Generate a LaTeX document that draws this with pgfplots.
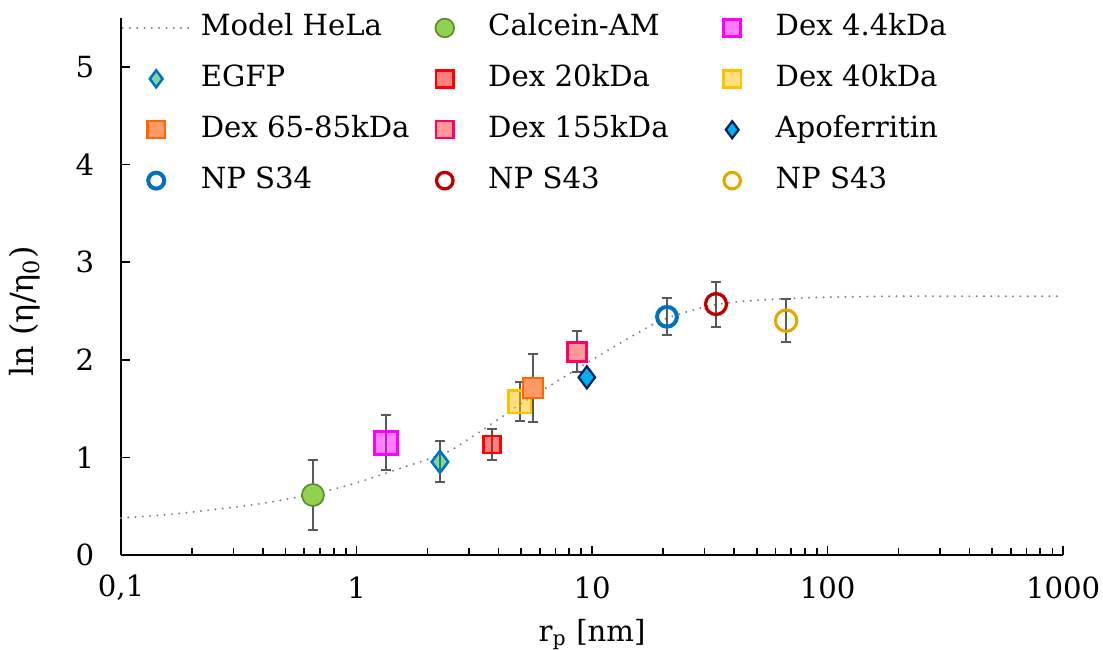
\documentclass[border=0pt]{standalone}
\usepackage{pgfplots}
\pgfplotsset{compat=1.18}
\usepackage{fontspec}
\setmainfont{DejaVu Serif}

\definecolor{calfill}{HTML}{92D050}
\definecolor{caldraw}{HTML}{5B8C2A}
\definecolor{egfpfill}{HTML}{00B050}
\definecolor{blue1}{HTML}{0070C0}
\definecolor{magenta1}{HTML}{FF00FF}
\definecolor{red1}{HTML}{FF0000}
\definecolor{yellow1}{HTML}{FFC000}
\definecolor{orfill}{HTML}{FF9966}
\definecolor{ordraw}{HTML}{FF6600}
\definecolor{pkfill}{HTML}{FF9999}
\definecolor{pkdraw}{HTML}{FF0066}
\definecolor{apofill}{HTML}{00B0F0}
\definecolor{apodraw}{HTML}{002060}
\definecolor{darkred1}{HTML}{C00000}
\definecolor{gold1}{HTML}{E3A600}
\definecolor{errgray}{HTML}{595959}
\definecolor{modelgray}{HTML}{808080}

\newcommand{\lt}[1]{\makebox[74pt][l]{#1}}

\pgfplotsset{
  mlegend/.style={
    legend image code/.code={%
      \pgfpathrectangle{\pgfpoint{0pt}{-1pt}}{\pgfpoint{24.4pt}{2pt}}\pgfusepath{discard}%
      \draw[##1,only marks,mark size=#1]
        plot coordinates {(12.2pt,0pt)};}},
  mlegend/.default=3.1pt,
  modellegend/.style={
    legend image code/.code={\draw[##1] (0pt,0pt) -- (24.4pt,0pt);}},
  errb/.style={
    error bars/.cd, y dir=both, y explicit,
    error bar style={errgray, line width=0.75pt, solid},
    error mark options={rotate=90, mark size=1.8pt, line width=0.75pt, errgray, solid}},
}

\begin{document}
\begin{tikzpicture}[font=\fontsize{10.6}{12.7}\selectfont]
\begin{axis}[
  name=ax,
  scale only axis,
  width=342.5pt, height=195.3pt,
  xmode=log,
  xmin=0.1, xmax=1000,
  ymin=0, ymax=5.5,
  axis x line*=bottom, axis y line*=left,
  axis line style={line width=0.75pt},
  tick align=inside,
  major tick length=3.3pt, minor tick length=2.5pt,
  tick style={black, line width=0.6pt},
  xtick={0.1,1,10,100,1000},
  xticklabels={{0,1},1,10,100,1000},
  ytick={0,1,2,3,4,5},
  yticklabels={0,1,2,3,4,5},
  xticklabel style={anchor=center, yshift=-11.8pt},
  yticklabel style={anchor=east},
  yticklabel shift=6.2pt,
  every axis y label/.style={at={(axis description cs:-0.1019,0.454)}, rotate=90, anchor=center,
    font=\fontsize{11.6}{13}\selectfont},
  every axis x label/.style={at={(axis description cs:0.5,-0.148)}, anchor=center},
  xlabel={r\textsubscript{p} [nm]},
  ylabel={ln (η/η\textsubscript{0})},
  legend columns=3,
  legend style={at={(axis description cs:0,1.013)}, anchor=north west,
    draw=none, fill=none, inner sep=0pt,
    nodes={inner sep=1pt, text height=7.8pt, text depth=2.2pt},
    row sep=6.5pt,
    /tikz/every odd column/.append style={column sep=2.6pt},
    /tikz/every even column/.append style={column sep=1.5pt}},
  legend cell align=left,
  clip=false,
]
\addplot[modelgray, line width=0.8pt, line cap=round, dash pattern=on 0pt off 2.65pt, smooth, modellegend]
coordinates {
(0.1,0.38) (0.15,0.41) (0.2,0.44) (0.3,0.49) (0.4,0.53) (0.5,0.57) (0.7,0.64)
(1,0.74) (1.5,0.88) (2,0.98) (2.5,1.07) (3,1.19) (4,1.39) (5,1.55) (7,1.77)
(10,2.00) (15,2.25) (20,2.41) (30,2.54) (40,2.59) (60,2.62) (100,2.64)
(200,2.65) (500,2.65) (1000,2.65)
};
\addlegendentry{\lt{Model HeLa}}

\addplot[only marks, mark=*, mark size=4pt, mark options={fill=calfill, draw=caldraw, line width=0.6pt}, mlegend=3.4pt, errb]
coordinates {(0.653,0.615) +- (0,0.36)};
\addlegendentry{\lt{Calcein-AM}}

\addplot[only marks, mark=square*, mark size=4.2pt, mark options={fill=magenta1, fill opacity=0.5, draw=magenta1, line width=1pt}, mlegend, errb]
coordinates {(1.33,1.15) +- (0,0.28)};
\addlegendentry{\lt{Dex 4.4kDa}}

\addplot[only marks, mark=diamond*, mark size=4pt, mark options={fill=egfpfill, fill opacity=0.5, draw=blue1, line width=0.9pt}, mlegend, errb]
coordinates {(2.26,0.955) +- (0,0.21)};
\addlegendentry{\lt{EGFP}}

\addplot[only marks, mark=square*, mark size=3.1pt, mark options={fill=red1, fill opacity=0.5, draw=red1, line width=0.9pt}, mlegend, errb]
coordinates {(3.76,1.13) +- (0,0.16)};
\addlegendentry{\lt{Dex 20kDa}}

\addplot[only marks, mark=square*, mark size=4.1pt, mark options={fill=yellow1, fill opacity=0.5, draw=yellow1, line width=0.9pt}, mlegend, errb]
coordinates {(4.94,1.57) +- (0,0.20)};
\addlegendentry{\lt{Dex 40kDa}}

\addplot[only marks, mark=square*, mark size=3.6pt, mark options={fill=orfill, draw=ordraw, line width=0.9pt}, mlegend, errb]
coordinates {(5.61,1.71) +- (0,0.35)};
\addlegendentry{\lt{Dex 65-85kDa}}

\addplot[only marks, mark=square*, mark size=3.5pt, mark options={fill=pkfill, draw=pkdraw, line width=0.9pt}, mlegend, errb]
coordinates {(8.63,2.08) +- (0,0.21)};
\addlegendentry{\lt{Dex 155kDa}}

\addplot[only marks, mark=diamond*, mark size=4pt, mark options={fill=apofill, draw=apodraw, line width=0.8pt}, mlegend]
coordinates {(9.5,1.82)};
\addlegendentry{\lt{Apoferritin}}

\addplot[only marks, mark=o, mark size=3.6pt, mark options={draw=blue1, line width=1.45pt}, mlegend=2.9pt, errb]
coordinates {(20.8,2.44) +- (0,0.19)};
\addlegendentry{\lt{NP S34}}

\addplot[only marks, mark=o, mark size=3.8pt, mark options={draw=darkred1, line width=1.2pt}, mlegend=3pt, errb]
coordinates {(33.6,2.57) +- (0,0.23)};
\addlegendentry{\lt{NP S43}}

\addplot[only marks, mark=o, mark size=3.9pt, mark options={draw=gold1, line width=1.1pt}, mlegend=3pt, errb]
coordinates {(66.7,2.40) +- (0,0.22)};
\addlegendentry{\lt{NP S43}}
\end{axis}
\pgfresetboundingbox
\path[use as bounding box] ([xshift=-44pt,yshift=-34.5pt]ax.south west) rectangle ([xshift=14.5pt,yshift=6.5pt]ax.north east);
\end{tikzpicture}
\end{document}
